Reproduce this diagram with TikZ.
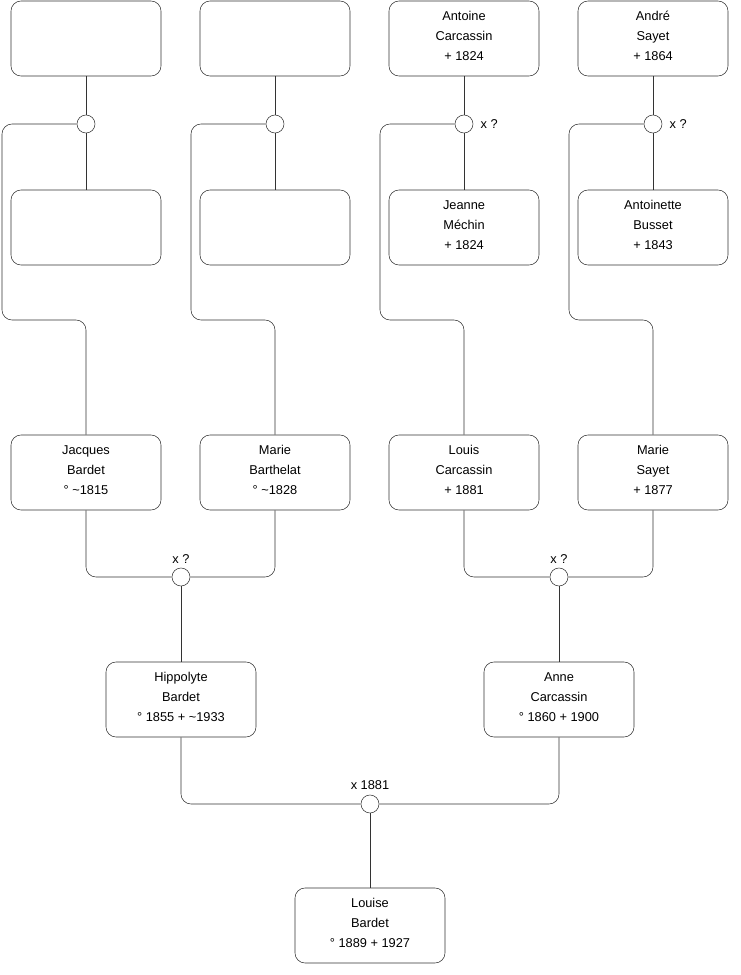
\documentclass[tikz,border=0pt]{standalone}
\usepackage{fontspec}
\setmainfont{Liberation Sans}
\usetikzlibrary{positioning}

\begin{document}
\begin{tikzpicture}[x=0.75pt, y=-0.75pt, font=\fontsize{9.6}{15}\selectfont,
  person/.style={draw=black!80, rounded corners=7.5pt, minimum width=112.5pt,
    minimum height=56.25pt, align=center, inner sep=0pt, text depth=4pt},
  union/.style={draw=black!80, circle, minimum size=13.5pt, inner sep=0pt},
  tie/.style={draw=black!80, rounded corners=7.5pt},
  note/.style={font=\fontsize{9.6}{11}\selectfont}]
  \useasboundingbox (0,0) rectangle (740,975);
  % generation of the great-great-grandparents
  \node[person] (pb1) at (86, 38.5)  {};
  \node[person] (pb2) at (275, 38.5) {};
  \node[person] (pc1) at (464, 38.5) {Antoine\\Carcassin\\ + 1824};
  \node[person] (ps1) at (653, 38.5) {André\\Sayet\\ + 1864};
  \node[union] (ub1) at (86, 124)  {};
  \node[union] (ub2) at (275, 124) {};
  \node[union, label={[note, label distance=2pt]right:x ?}] (uc1) at (464, 124) {};
  \node[union, label={[note, label distance=2pt]right:x ?}] (us1) at (653, 124) {};
  \node[person] (mb1) at (86, 227.5)  {};
  \node[person] (mb2) at (275, 227.5) {};
  \node[person] (mc1) at (464, 227.5) {Jeanne\\Méchin\\ + 1824};
  \node[person] (ms1) at (653, 227.5) {Antoinette\\Busset\\ + 1843};
  % great-grandparents
  \node[person] (jacques) at (86, 472.5)  {Jacques\\Bardet\\° \textasciitilde 1815};
  \node[person] (marie)   at (275, 472.5) {Marie\\Barthelat\\° \textasciitilde 1828};
  \node[person] (louis)   at (464, 472.5) {Louis\\Carcassin\\+ 1881};
  \node[person] (maries)  at (653, 472.5) {Marie\\Sayet\\+ 1877};
  \node[union, label={[note]above:x ?}] (ujm) at (181, 577) {};
  \node[union, label={[note]above:x ?}] (ulm) at (559, 577) {};
  % grandparents
  \node[person] (hippolyte) at (181, 699.5) {Hippolyte\\Bardet\\° 1855 + \textasciitilde 1933};
  \node[person] (anne)      at (559, 699.5) {Anne\\Carcassin\\° 1860 + 1900};
  \node[union, label={[note]above:x 1881}] (uha) at (370, 804) {};
  \node[person] (louise) at (370, 925.5) {Louise\\Bardet\\° 1889 + 1927};
  % links
  \foreach \f/\u/\m/\c/\xl in {pb1/ub1/mb1/jacques/2, pb2/ub2/mb2/marie/191,
      pc1/uc1/mc1/louis/380, ps1/us1/ms1/maries/569} {
    \draw[tie] (\f.south) -- (\u.north);
    \draw[tie] (\u.south) -- (\m.north);
    \draw[tie] (\u.west) -| (\xl, 320) -| (\c.north);
  }
  \draw[tie] (jacques.south) |- (ujm.west);
  \draw[tie] (marie.south) |- (ujm.east);
  \draw[tie] (ujm.south) -- (hippolyte.north);
  \draw[tie] (louis.south) |- (ulm.west);
  \draw[tie] (maries.south) |- (ulm.east);
  \draw[tie] (ulm.south) -- (anne.north);
  \draw[tie] (hippolyte.south) |- (uha.west);
  \draw[tie] (anne.south) |- (uha.east);
  \draw[tie] (uha.south) -- (louise.north);
\end{tikzpicture}
\end{document}
